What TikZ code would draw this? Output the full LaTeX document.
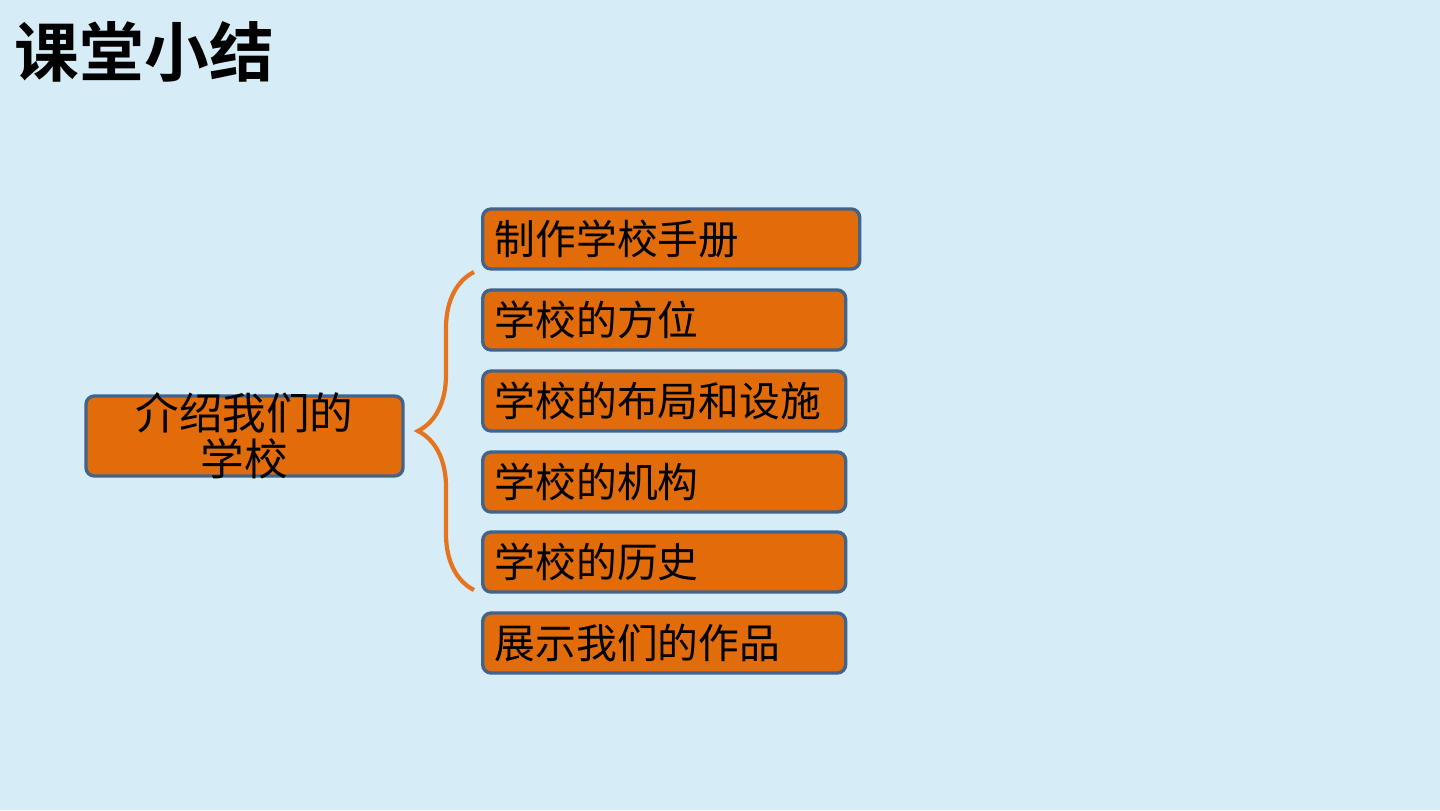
\documentclass[tikz,border=0pt]{standalone}
\usepackage{fontspec}
\newfontfamily\cjk{Noto Sans CJK SC}
\newfontfamily\cjkbold{Noto Sans CJK SC Bold}
\usetikzlibrary{decorations.pathreplacing}

\definecolor{bgblue}{RGB}{214,236,247}
\definecolor{boxorange}{RGB}{227,108,10}
\definecolor{boxline}{RGB}{65,100,140}
\definecolor{braceorange}{RGB}{230,115,30}

\begin{document}
\begin{tikzpicture}[
  x=0.025cm,
  y=-0.025cm,
  item/.style={draw=boxline, line width=2.4pt, fill=boxorange, rounded corners=6pt,
    minimum height=60*0.025cm, inner xsep=12*0.025cm, anchor=west, align=left,
    text width=339*0.025cm, font=\cjk\fontsize{29pt}{31pt}\selectfont, text=black},
  rootbox/.style={draw=boxline, line width=2.4pt, fill=boxorange, rounded corners=6pt,
    minimum width=317*0.025cm, minimum height=80*0.025cm},
  bracket/.style={draw=braceorange, line width=3pt, decorate,
    decoration={brace, amplitude=56*0.025cm}}
]
  \fill[bgblue] (0,0) rectangle (1440,810);
  \node[font=\cjkbold\fontsize{46pt}{48pt}\selectfont, anchor=west] (title) at (10,52) {课堂小结};

  \node[rootbox] (intro) at (244.5,436) {};
  \node[font=\cjk\fontsize{31pt}{33pt}\selectfont, align=center] (introtext) at (intro.center) {介绍我们的\\学校};

  \node[item, text width=353*0.025cm] (handbook) at (481,239) {制作学校手册};
  \node[item] (place) at (481,320) {学校的方位};
  \node[item] (layout) at (481,401) {学校的布局和设施};
  \node[item] (organs) at (481,482) {学校的机构};
  \node[item] (history) at (481,562) {学校的历史};
  \node[item] (works) at (481,643) {展示我们的作品};

  \coordinate (bracetop) at (474,272);
  \coordinate (bracebottom) at (474,590);
  \draw[bracket] (bracebottom) -- (bracetop);
\end{tikzpicture}
\end{document}
